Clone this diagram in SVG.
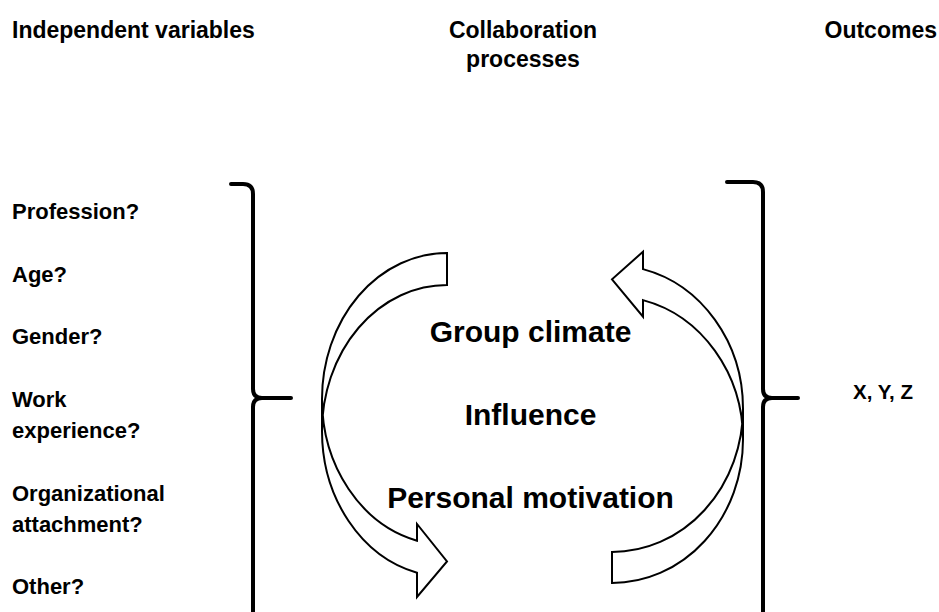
<svg xmlns="http://www.w3.org/2000/svg" width="939" height="612" viewBox="0 0 939 612">
<style>
  text { font-family: "Liberation Sans", Arial, sans-serif; font-weight: bold; fill: #000; }
  .hd { font-size: 23px; }
  .it { font-size: 22px; }
  .ct { font-size: 30px; text-anchor: middle; }
  .brace { fill: none; stroke: #000; stroke-width: 4; stroke-linecap: round; stroke-linejoin: round; }
  .arrow { fill: #fff; stroke: #000; stroke-width: 2; stroke-linejoin: miter; }
</style>
<rect width="939" height="612" fill="#fff"/>

<g id="headers">
  <text class="hd" x="12" y="38">Independent variables</text>
  <text class="hd" x="523" y="38" text-anchor="middle">Collaboration</text>
  <text class="hd" x="523" y="67" text-anchor="middle">processes</text>
  <text class="hd" x="937" y="38" text-anchor="end">Outcomes</text>
</g>

<g id="independent-variables">
  <text class="it" x="12" y="219">Profession?</text>
  <text class="it" x="12" y="282">Age?</text>
  <text class="it" x="12" y="344">Gender?</text>
  <text class="it" x="12" y="407">Work</text>
  <text class="it" x="12" y="438">experience?</text>
  <text class="it" x="12" y="501">Organizational</text>
  <text class="it" x="12" y="532">attachment?</text>
  <text class="it" x="12" y="594">Other?</text>
</g>

<g id="processes">
  <text class="ct" x="530.5" y="342">Group climate</text>
  <text class="ct" x="530.5" y="425">Influence</text>
  <text class="ct" x="530.5" y="508">Personal motivation</text>
</g>

<g id="outcomes">
  <text x="853" y="399" style="font-size:20.5px">X, Y, Z</text>
</g>

<g id="connectors">
  <path id="left-brace" class="brace" d="M231,184 L243,184 Q253,184 253,194 L253,389 Q253,398 262,398 L291,398 M262,398 Q253,398 253,407 L253,616"/>
  <path id="right-brace" class="brace" d="M727,182 L753,182 Q763,182 763,192 L763,389 Q763,398 772,398 L798,398 M772,398 Q763,398 763,407 L763,616"/>
  <path id="left-arrow" class="arrow" d="M322,399 A125,146 0 0 0 417,540.7 L417,524 L447,561.5 L417,597 L417,572.7 A125,146 0 0 1 322,431 L322,399 A125,146 0 0 1 447,253 L447,285 A125,146 0 0 0 322,431"/>
  <path id="right-arrow" class="arrow" d="M743,439.5 A131,143.5 0 0 0 643,300.1 L643,316.7 L612,279.3 L643,251.7 L643,269.1 A131,143.5 0 0 1 743,408.5 L743,439.5 A131,143.5 0 0 1 612,583 L612,552 A131,143.5 0 0 0 743,408.5"/>
</g>
</svg>
